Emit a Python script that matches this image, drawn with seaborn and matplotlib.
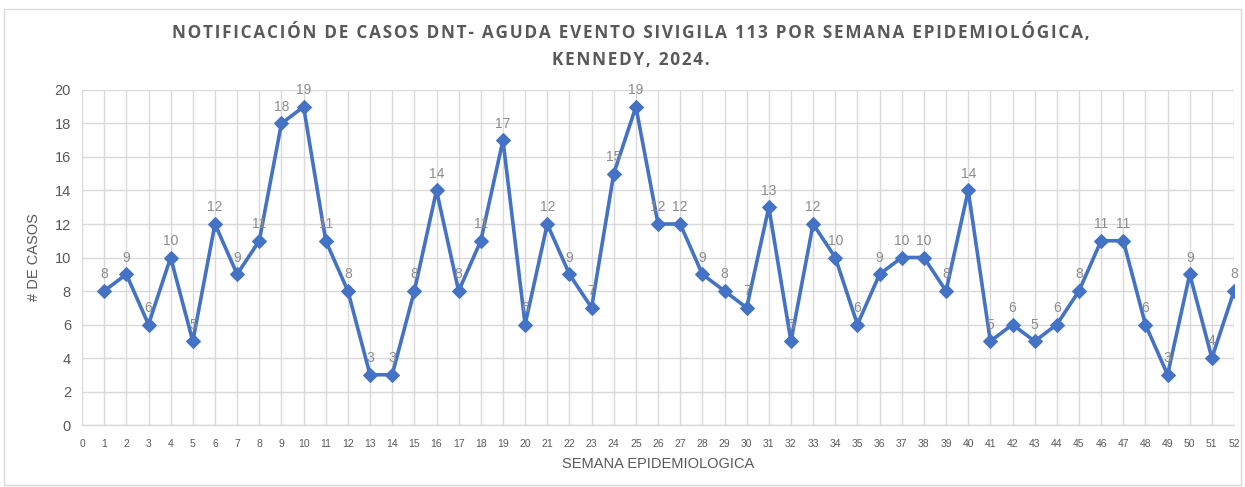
import matplotlib
matplotlib.use("Agg")
import matplotlib.pyplot as plt
import seaborn as sns
import pandas as pd
from matplotlib.patches import Rectangle

weeks = list(range(1, 53))
cases = [8, 9, 6, 10, 5, 12, 9, 11, 18, 19, 11, 8, 3, 3, 8, 14, 8, 11, 17, 6,
         12, 9, 7, 15, 19, 12, 12, 9, 8, 7, 13, 5, 12, 10, 6, 9, 10, 10, 8, 14,
         5, 6, 5, 6, 8, 11, 11, 6, 3, 9, 4, 8]
x_ticks = list(range(0, 53))
y_ticks = list(range(0, 21, 2))

title_lines = ["NOTIFICACIÓN DE CASOS DNT- AGUDA EVENTO SIVIGILA 113 POR SEMANA EPIDEMIOLÓGICA,",
               "KENNEDY, 2024."]
xlabel = "SEMANA EPIDEMIOLOGICA"
ylabel = "# DE CASOS"

df = pd.DataFrame({"semana": weeks, "casos": cases})

sns.set_theme(style="white")
plt.rcParams['font.family'] = ['Liberation Sans', 'DejaVu Sans']

fig = plt.figure(figsize=(12.45, 4.87), dpi=100)
ax = fig.add_axes([0.0659, 0.1273, 0.9253, 0.6879])

sns.lineplot(data=df, x="semana", y="casos", ax=ax, color="#4472C4",
             linewidth=2.6, marker="D", markersize=7, markeredgecolor="#4472C4")

for w, c in zip(weeks, cases):
    ax.annotate(str(c), (w, c), xytext=(0, 7), textcoords="offset points",
                ha="center", va="bottom", fontsize=10, color="#8C8C8C")

ax.set_xlim(0, 52)
ax.set_ylim(0, 20)
ax.set_xticks(x_ticks)
ax.set_yticks(y_ticks)
ax.tick_params(axis="x", labelsize=7.5, colors="#595959", length=0, pad=10)
ax.tick_params(axis="y", labelsize=10.5, colors="#595959", length=0, pad=8)
ax.grid(True, color="#D9D9D9", linewidth=1)
for s in ["top", "right", "left"]:
    ax.spines[s].set_visible(False)
ax.spines["bottom"].set_color("#D9D9D9")
ax.spines["bottom"].set_linewidth(1)

ax.set_xlabel(xlabel, fontsize=10.5, color="#595959", labelpad=6)
ax.set_ylabel(ylabel, fontsize=10.5, color="#595959", labelpad=10)

hair = "\u200a"
title = "\n".join(hair.join(line) for line in title_lines)
fig.text(0.507, 0.9055, title, ha="center", va="center", fontsize=12.3,
         fontweight="bold", color="#595959", linespacing=1.62,
         family=['Open Sans', 'DejaVu Sans'])

fig.patches.append(Rectangle((0.003, 0.004), 0.994, 0.978, transform=fig.transFigure,
                             fill=False, edgecolor="#D9D9D9", linewidth=1))

fig.savefig("out.png", dpi=100)
